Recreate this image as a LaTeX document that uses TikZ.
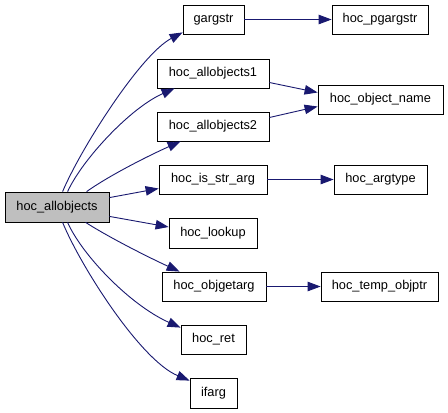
\documentclass[tikz,border=0pt]{standalone}
\usepackage{fontspec}
\setmainfont{Liberation Sans}
\usetikzlibrary{arrows.meta,calc}
\definecolor{edgeblue}{RGB}{25,25,112}
\definecolor{rootgray}{RGB}{191,191,191}
\begin{document}
\begin{tikzpicture}[x=1pt,y=-1pt,
  box/.style={draw=black,line width=0.8pt,fill=white,inner sep=0pt,font=\fontsize{12.8}{14}\selectfont},
  edge/.style={draw=edgeblue,line width=0.9pt,-{Triangle[length=13pt,width=9.5pt]}}]
\useasboundingbox (0,0) rectangle (448,413);
\fill[white] (0,0) rectangle (448,413);
\node[box,fill=rootgray,minimum width=104pt,minimum height=30pt] (root) at (57,207) {hoc\_allobjects};
\node[box,minimum width=61pt,minimum height=29pt] (gargstr) at (213.5,19.5) {gargstr};
\node[box,minimum width=96pt,minimum height=29pt] (pgargstr) at (380,19.5) {hoc\_pgargstr};
\node[box,minimum width=112pt,minimum height=29pt] (all1) at (213,73.5) {hoc\_allobjects1};
\node[box,minimum width=112pt,minimum height=29pt] (all2) at (213,126.5) {hoc\_allobjects2};
\node[box,minimum width=125pt,minimum height=29pt] (objname) at (380.5,99.5) {hoc\_object\_name};
\node[box,minimum width=108pt,minimum height=29pt] (isstr) at (213,179.5) {hoc\_is\_str\_arg};
\node[box,minimum width=93pt,minimum height=29pt] (argtype) at (380.5,179.5) {hoc\_argtype};
\node[box,minimum width=88pt,minimum height=30pt] (lookup) at (213,233) {hoc\_lookup};
\node[box,minimum width=104pt,minimum height=29pt] (objget) at (214,286.5) {hoc\_objgetarg};
\node[box,minimum width=117pt,minimum height=29pt] (tempobj) at (379.5,286.5) {hoc\_temp\_objptr};
\node[box,minimum width=65pt,minimum height=29pt] (ret) at (213.5,339.5) {hoc\_ret};
\node[box,minimum width=47pt,minimum height=30pt] (ifarg) at (213.5,393) {ifarg};
% edges from root
\draw[edge] ($(root.north west)+(58,0)$) .. controls (80,150) and (140,55) .. ($(gargstr.south west)+(0,-2)$);
\draw[edge] ($(root.north west)+(63,0)$) .. controls (82,160) and (130,108) .. ($(all1.south west)+(18,0)$);
\draw[edge] ($(root.north west)+(82,0)$) .. controls (110,175) and (150,155) .. ($(all2.south west)+(24,0)$);
\draw[edge] ($(root.north east)+(0,6)$) -- ($(isstr.west)+(0,9)$);
\draw[edge] ($(root.south east)+(0,-6)$) -- ($(lookup.west)+(0,-6)$);
\draw[edge] ($(root.south west)+(81,0)$) .. controls (110,238) and (150,258) .. ($(objget.north west)+(18,0)$);
\draw[edge] ($(root.south west)+(63,0)$) .. controls (82,255) and (130,305) .. ($(ret.north west)+(0,3)$);
\draw[edge] ($(root.south west)+(58,0)$) .. controls (80,265) and (140,360) .. ($(ifarg.north west)+(0,3)$);
% second level
\draw[edge] (gargstr.east) -- (pgargstr.west);
\draw[edge] ($(all1.east)+(0,9)$) -- ($(objname.west)+(0,-7)$);
\draw[edge] ($(all2.east)+(0,-9)$) -- ($(objname.west)+(0,7)$);
\draw[edge] (isstr.east) -- (argtype.west);
\draw[edge] (objget.east) -- (tempobj.west);
\end{tikzpicture}
\end{document}
